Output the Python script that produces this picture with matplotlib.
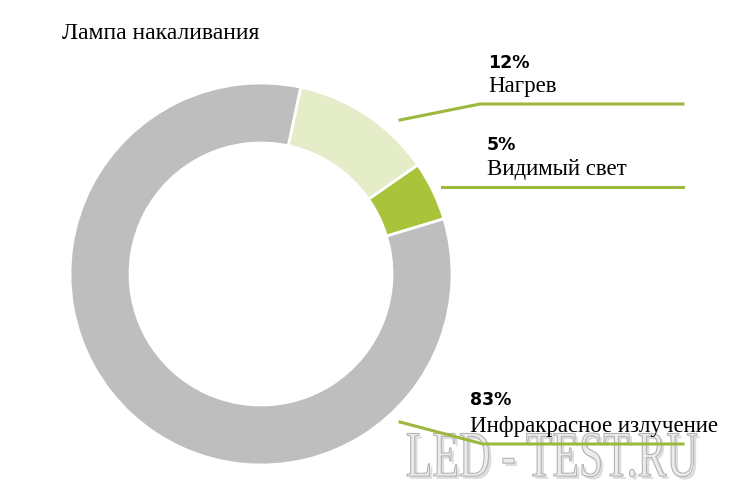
import matplotlib.pyplot as plt
import matplotlib.patheffects as pe
from matplotlib.textpath import TextPath
from matplotlib.font_manager import FontProperties
from matplotlib.patches import PathPatch
from matplotlib.transforms import Affine2D

# данные
labels = ["Нагрев", "Видимый свет", "Инфракрасное излучение"]
values = [12, 5, 83]
colors = ["#e5ecc8", "#a9c33a", "#bebebe"]
title = "Лампа накаливания"
watermark = "LED - TEST.RU"

W, H = 732, 488
fig = plt.figure(figsize=(W / 100, H / 100), dpi=100)
ax = fig.add_axes([0, 0, 1, 1])

cx, cy = 261, H - 274
R = 191
ax.pie(values, colors=colors, startangle=78, counterclock=False,
       center=(cx, cy), radius=R,
       wedgeprops=dict(width=60, edgecolor="white", linewidth=2))
ax.set_xlim(0, W)
ax.set_ylim(0, H)
ax.set_aspect("equal")
ax.axis("off")

# водяной знак (узкий шрифт -> растягиваем по высоте)
tp = TextPath((0, 0), watermark, size=100, prop=FontProperties(family="Liberation Serif"))
bb = tp.get_extents()
x0, x1, ytop, ybot = 407, 697, 433, 477
tr = (Affine2D().translate(-bb.x0, -bb.y0)
      .scale((x1 - x0) / bb.width, (ybot - ytop) / bb.height)
      .translate(x0, H - ybot))
wm = PathPatch(tr.transform_path(tp), facecolor="#ececec", edgecolor="#b4b4b4", lw=0.8, zorder=1,
               path_effects=[pe.SimplePatchShadow(offset=(2, -2), shadow_rgbFace="#cfcfcf", alpha=0.7),
                             pe.Normal()])
ax.add_patch(wm)

lc = "#9db83e"
# линии-выноски
ax.plot([400, 480, 683], [H - 120, H - 104, H - 104], color=lc, lw=2.2, zorder=3)
ax.plot([442, 683], [H - 187, H - 187], color=lc, lw=2.2, zorder=3)
ax.plot([400, 483, 683], [H - 422, H - 444, H - 444], color=lc, lw=2.2, zorder=3)

ax.text(62, H - 39, title, family="Liberation Serif", fontsize=17, color="black")

pos = [(488, 68, 92), (487, 150, 175), (470, 405, 432)]
for (x, yp, yl), lab, v in zip(pos, labels, values):
    ax.text(x, H - yp, f"{v}%", family="DejaVu Sans", fontweight="bold", fontsize=12.5,
            color="black", zorder=4)
    ax.text(x, H - yl, lab, family="Liberation Serif", fontsize=16.5, color="black", zorder=4)

fig.savefig("out.png", dpi=100)
